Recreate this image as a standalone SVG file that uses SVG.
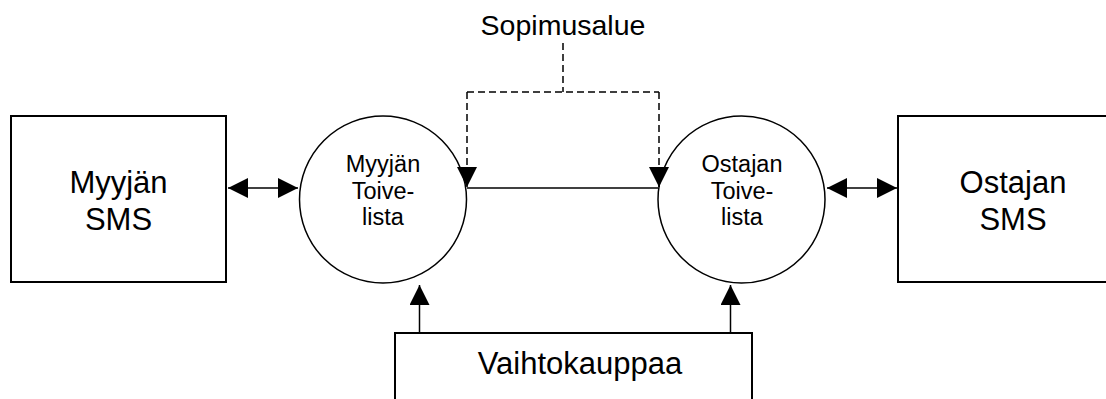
<svg xmlns="http://www.w3.org/2000/svg" width="1106" height="399" viewBox="0 0 1106 399">
  <style>
    .shape { fill: #ffffff; stroke: #000000; stroke-width: 1.5; }
    .box { stroke-width: 2; }
    .big { font-family: "Liberation Sans", Arial, sans-serif; font-size: 31px; fill: #000000; text-anchor: middle; }
    .small { font-family: "Liberation Sans", Arial, sans-serif; font-size: 23.5px; fill: #000000; text-anchor: middle; }
    .label { font-family: "Liberation Sans", Arial, sans-serif; font-size: 28.5px; fill: #000000; text-anchor: middle; }
    .conn { fill: none; stroke: #000000; stroke-width: 1.5; }
    .dash { stroke-dasharray: 7 4; }
  </style>
  <defs>
    <marker id="arrow" viewBox="0 0 20 20" refX="20" refY="10" markerWidth="20" markerHeight="20" markerUnits="userSpaceOnUse" orient="auto-start-reverse">
      <path d="M0,0 L20,10 L0,20 Z" fill="#000000"/>
    </marker>
  </defs>
  <rect width="1106" height="399" fill="#ffffff"/>

  <g id="myyjan-sms">
    <rect class="shape box" x="11" y="116" width="215" height="166"/>
    <text class="big" x="118.5" y="193">Myyjän</text>
    <text class="big" x="118.5" y="230">SMS</text>
  </g>

  <g id="ostajan-sms">
    <rect class="shape box" x="898" y="116" width="220" height="166"/>
    <text class="big" x="1013" y="193">Ostajan</text>
    <text class="big" x="1013" y="230">SMS</text>
  </g>

  <g id="myyjan-toivelista">
    <circle class="shape" cx="383" cy="199.5" r="83.5"/>
    <text class="small" x="383" y="172">Myyjän</text>
    <text class="small" x="383" y="198.5">Toive-</text>
    <text class="small" x="383" y="225">lista</text>
  </g>

  <g id="ostajan-toivelista">
    <circle class="shape" cx="741.5" cy="199.5" r="83.5"/>
    <text class="small" x="742" y="172">Ostajan</text>
    <text class="small" x="742" y="198.5">Toive-</text>
    <text class="small" x="742" y="225">lista</text>
  </g>

  <g id="vaihtokauppaa">
    <rect class="shape box" x="395" y="333" width="357" height="80"/>
    <text class="big" x="580" y="374">Vaihtokauppaa</text>
  </g>

  <g id="sopimusalue">
    <text class="label" x="563" y="35">Sopimusalue</text>
  </g>

  <g id="connectors">
    <line class="conn" x1="228" y1="188" x2="298" y2="188" marker-start="url(#arrow)" marker-end="url(#arrow)"/>
    <line class="conn" x1="827" y1="188" x2="897" y2="188" marker-start="url(#arrow)" marker-end="url(#arrow)"/>
    <line class="conn" x1="467" y1="188" x2="658" y2="188"/>
    <path class="conn dash" d="M563,43 V92"/>
    <path class="conn dash" d="M467,92 H659"/>
    <path class="conn dash" d="M467,92 V187" marker-end="url(#arrow)"/>
    <path class="conn dash" d="M659,92 V187" marker-end="url(#arrow)"/>
    <line class="conn" x1="419.5" y1="333" x2="419.5" y2="285" marker-end="url(#arrow)"/>
    <line class="conn" x1="730.5" y1="333" x2="730.5" y2="285" marker-end="url(#arrow)"/>
  </g>
</svg>
